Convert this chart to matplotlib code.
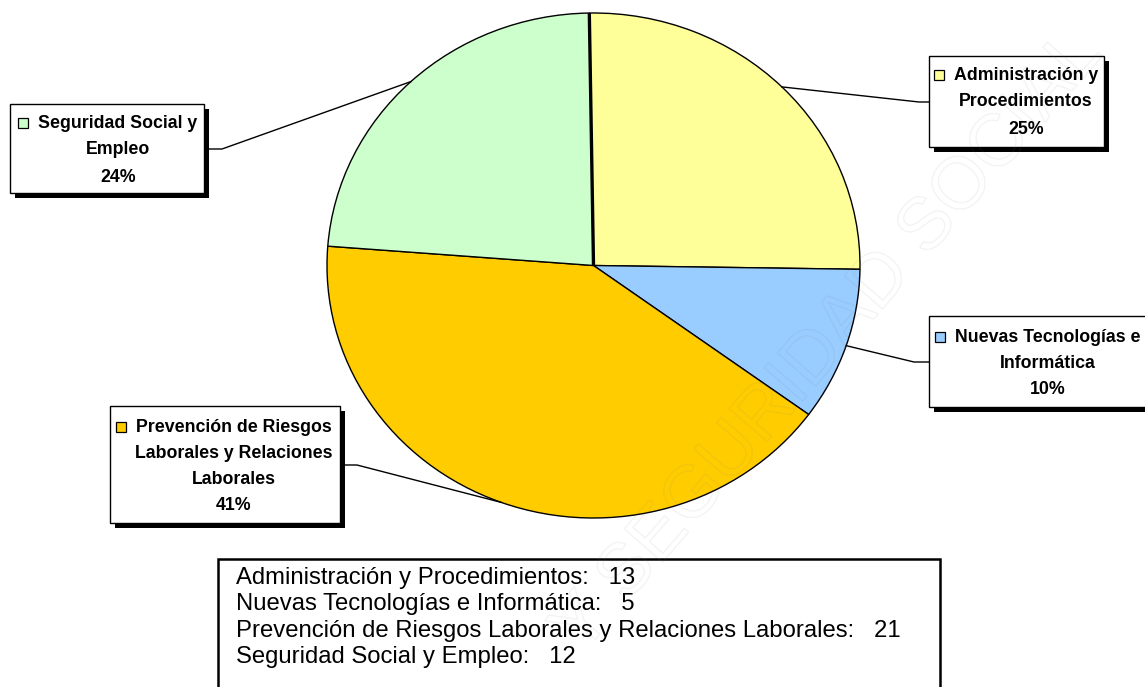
import matplotlib
matplotlib.use('Agg')
import matplotlib.pyplot as plt
from matplotlib.patches import Rectangle
import matplotlib.patheffects as pe
import numpy as np

# ---------------- data ----------------
categories = ["Administración y Procedimientos",
              "Nuevas Tecnologías e Informática",
              "Prevención de Riesgos Laborales y Relaciones Laborales",
              "Seguridad Social y Empleo"]
values = [13, 5, 21, 12]
label_lines = [["Administración y", "Procedimientos"],
               ["Nuevas Tecnologías e", "Informática"],
               ["Prevención de Riesgos", "Laborales y Relaciones", "Laborales"],
               ["Seguridad Social y", "Empleo"]]
colors = ["#FFFF99", "#99CCFF", "#FFCC00", "#CCFFCC"]

# ---------------- layout (pixels, origin top-left) ----------------
W, H = 1145, 687
plt.rcParams['font.family'] = ['Liberation Sans', 'DejaVu Sans']
fig = plt.figure(figsize=(W / 100, H / 100), dpi=100)


def px_axes(l, t, r, b):
    return [l / W, 1 - b / H, (r - l) / W, (b - t) / H]


# label box layout: box (l, t, r, b), text centre x, first line y, line step, elbow, attach x
box_layout = [
    dict(box=(929, 56, 1104, 147), cx=1026, y0=75, step=27, elbow=(919, 102), attach=929),
    dict(box=(929, 316, 1150, 407), cx=1048, y0=337, step=26, elbow=(914, 362), attach=929),
    dict(box=(110, 406, 340, 523), cx=234, y0=427, step=26.3, elbow=(357, 465), attach=340),
    dict(box=(10, 104, 204, 193), cx=118, y0=123, step=27, elbow=(222, 149), attach=204),
]

# ---------------- pie ----------------
ax = fig.add_axes(px_axes(327, 13, 860, 518))
ax.set_zorder(1)
wedges, _ = ax.pie(values, colors=colors, startangle=90.9, counterclock=False,
                   wedgeprops=dict(edgecolor='black', linewidth=1.0))
ax.set_aspect('auto')
ax.set_xlim(-1, 1)
ax.set_ylim(-1, 1)
# slightly heavier boundary at the start of the first slice
ang = np.deg2rad(wedges[0].theta2)
ax.plot([0, np.cos(ang)], [0, np.sin(ang)], color='black', lw=2.4,
        solid_capstyle='butt', zorder=5)

# ---------------- overlay in pixel coordinates ----------------
ov = fig.add_axes([0, 0, 1, 1])
ov.set_zorder(2)
ov.patch.set_visible(False)
ov.set_xlim(0, W)
ov.set_ylim(H, 0)
ov.axis('off')

total = sum(values)
renderer = fig.canvas.get_renderer()

for i, (w, lines, lay) in enumerate(zip(wedges, label_lines, box_layout)):
    # leader line from wedge mid point on the rim
    mid = np.deg2rad((w.theta1 + w.theta2) / 2)
    disp = ax.transData.transform((np.cos(mid), np.sin(mid)))
    sx, sy = ov.transData.inverted().transform(disp)
    ex, ey = lay['elbow']
    ov.plot([sx, ex, lay['attach']], [sy, ey, ey], color='black', lw=1.0, zorder=3)

    l, t, r, b = lay['box']
    # shadow
    ov.add_patch(Rectangle((l + 5, t + 5), r - l, b - t, facecolor='black',
                           edgecolor='none', zorder=4))
    ov.add_patch(Rectangle((l, t), r - l, b - t, facecolor='white',
                           edgecolor='black', lw=1.0, zorder=5))
    pct = f"{round(values[i] / total * 100)}%"
    all_lines = lines + [pct]
    first = None
    for k, s in enumerate(all_lines):
        txt = ov.text(lay['cx'], lay['y0'] + k * lay['step'], s, ha='center', va='center',
                      fontsize=12.8, fontweight='bold', color='black', zorder=6)
        if k == 0:
            first = txt
    bb = first.get_window_extent(renderer)
    (x0, _), = ov.transData.inverted().transform([(bb.x0, bb.y0)])
    ov.add_patch(Rectangle((x0 - 20, lay['y0'] - 5), 10, 10, facecolor=colors[i],
                           edgecolor='black', lw=0.9, zorder=6))

# ---------------- data table box ----------------
ov.add_patch(Rectangle((218, 559), 722, 150, facecolor='white', edgecolor='black',
                       lw=1.8, zorder=3))
table_y = [578, 604, 631, 657]
for cat, v, y in zip(categories, values, table_y):
    ov.text(236, y, f"{cat}:   {v}", ha='left', va='center', fontsize=17.2,
            color='black', zorder=4)

# ---------------- watermark ----------------
ov.text(828, 342, "Y SEGURIDAD SOCIAL", rotation=49, rotation_mode='anchor',
        ha='center', va='center', fontsize=53, color=(1, 1, 1, 0),
        zorder=10,
        path_effects=[pe.Stroke(linewidth=1.0, foreground=(0.5, 0.5, 0.5, 0.09))])

fig.savefig('out.png', dpi=100)
